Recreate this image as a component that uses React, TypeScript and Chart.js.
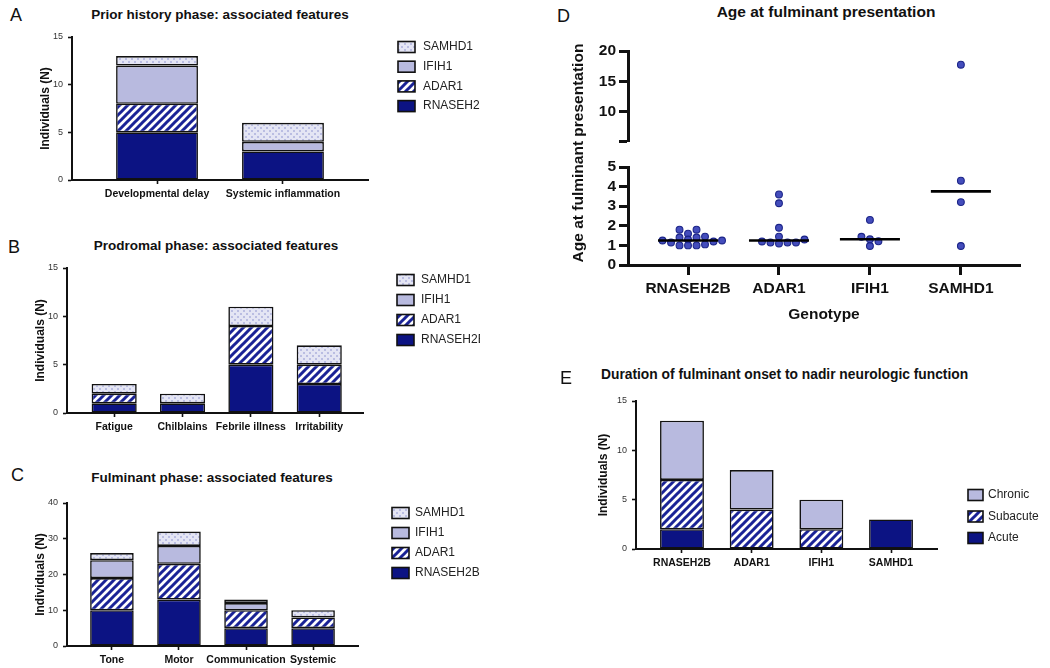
import React, { useEffect, useRef } from 'react';
import { Chart, registerables } from 'chart.js';

Chart.register(...registerables);

// ======================= DATA =======================
const genotypes = ['RNASEH2B', 'ADAR1', 'IFIH1', 'SAMHD1'];

// A – prior history phase
const priorCategories = ['Developmental delay', 'Systemic inflammation'];
const priorRNASEH2B = [5, 3];
const priorADAR1 = [3, 0];
const priorIFIH1 = [4, 1];
const priorSAMHD1 = [1, 2];
const priorAxis = { max: 15, step: 5 };

// B – prodromal phase
const prodromalCategories = ['Fatigue', 'Chilblains', 'Febrile illness', 'Irritability'];
const prodromalRNASEH2B = [1, 1, 5, 3];
const prodromalADAR1 = [1, 0, 4, 2];
const prodromalIFIH1 = [0, 0, 0, 0];
const prodromalSAMHD1 = [1, 1, 2, 2];
const prodromalAxis = { max: 15, step: 5 };

// C – fulminant phase
const fulminantCategories = ['Tone', 'Motor', 'Communication', 'Systemic'];
const fulminantRNASEH2B = [10, 13, 5, 5];
const fulminantADAR1 = [9, 10, 5, 3];
const fulminantIFIH1 = [5, 5, 2, 0];
const fulminantSAMHD1 = [2, 4, 1, 2];
const fulminantAxis = { max: 40, step: 10 };

// D – age at fulminant presentation (years)
const ageRNASEH2B = [1.6, 1.45, 1.8, 1.05, 1.4, 1.3, 1.2, 1.0, 1.8, 1.4, 1.0, 1.15, 1.0, 1.25, 1.25];
const ageADAR1 = [1.2, 1.45, 1.15, 3.6, 3.15, 1.9, 1.3, 1.1, 1.15, 1.15];
const ageIFIH1 = [1.44, 0.97, 2.3, 1.31, 1.21];
const ageSAMHD1 = [17.75, 4.3, 3.21, 0.97];
const ageLowerRange = { min: 0, max: 5, step: 1 };
const ageUpperRange = { min: 5.1, max: 20 };
const ageUpperTicks = [10, 15, 20];

// E – duration of fulminant onset to nadir
const durationAcute = [2, 0, 0, 3];
const durationSubacute = [5, 4, 2, 0];
const durationChronic = [6, 4, 3, 0];
const durationAxis = { max: 15, step: 5 };

// ======================= STYLE / LAYOUT =======================
const FONT = "'Liberation Sans', Arial, Helvetica, sans-serif";
const NAVY = '#0c1383';
const LAVENDER = '#b8badf';
const INK = '#111111';

type Box = { l: number; t: number; r: number; b: number };
type Pad = { left: number; top: number; right: number; bottom: number };

const LAYOUT: any = {
  A: { area: { l: 72, t: 37, r: 368, b: 180 }, pad: { left: 40, top: 12, right: 112, bottom: 28 }, xMin: -0.675, xMax: 1.675, barFrac: 0.65,
    legend: { show: true, dx: 30, dy: 10, gap: 19.7, boxW: 17, boxH: 11, textDx: 25, fontSize: 12 } },
  B: { area: { l: 67, t: 268, r: 363, b: 413 }, pad: { left: 40, top: 12, right: 117, bottom: 28 }, xMin: -0.69, xMax: 3.64, barFrac: 0.66,
    legend: { show: true, dx: 34, dy: 12, gap: 20, boxW: 17, boxH: 11, textDx: 24, fontSize: 12 } },
  C: { area: { l: 67, t: 503, r: 358, b: 646 }, pad: { left: 40, top: 12, right: 122, bottom: 22 }, xMin: -0.67, xMax: 3.67, barFrac: 0.65,
    legend: { show: true, dx: 34, dy: 10, gap: 20, boxW: 17, boxH: 11, textDx: 23, fontSize: 12 } },
  E: { area: { l: 636, t: 401, r: 937, b: 549 }, pad: { left: 46, top: 12, right: 113, bottom: 26 }, xMin: -0.66, xMax: 3.66, barFrac: 0.63,
    legend: { show: true, dx: 31, dy: 94, gap: 21.5, boxW: 15, boxH: 11, textDx: 20, fontSize: 12 } },
  DU: { area: { l: 628, t: 51, r: 1020, b: 148 }, pad: { left: 50, top: 14, right: 10, bottom: 6 } },
  DL: { area: { l: 628, t: 167, r: 1020, b: 265 }, pad: { left: 50, top: 14, right: 10, bottom: 65 } },
  Dx: { min: -0.66, max: 3.65 },
};

function rectOf(area: Box, pad: Pad) {
  return {
    x: area.l - pad.left,
    y: area.t - pad.top,
    w: area.r - area.l + pad.left + pad.right,
    h: area.b - area.t + pad.top + pad.bottom,
  };
}

// ======================= PATTERNS =======================
function hatchPattern(): any {
  const c = document.createElement('canvas');
  c.width = 8; c.height = 8;
  const g = c.getContext('2d')!;
  g.fillStyle = '#ffffff';
  g.fillRect(0, 0, 8, 8);
  g.strokeStyle = '#1a2396';
  g.lineWidth = 3;
  g.beginPath();
  g.moveTo(-2, 10); g.lineTo(10, -2);
  g.moveTo(-6, 6); g.lineTo(6, -6);
  g.moveTo(2, 14); g.lineTo(14, 2);
  g.stroke();
  return g.createPattern(c, 'repeat');
}

function dotPattern(): any {
  const c = document.createElement('canvas');
  c.width = 6; c.height = 6;
  const g = c.getContext('2d')!;
  g.fillStyle = '#e4e5f4';
  g.fillRect(0, 0, 6, 6);
  g.fillStyle = '#babde2';
  g.fillRect(0, 0, 2, 2);
  g.fillRect(3, 3, 2, 2);
  return g.createPattern(c, 'repeat');
}

// ======================= PLUGINS =======================
const boxLegend = {
  id: 'boxLegend',
  afterDraw(chart: any, _args: any, o: any) {
    if (!o || !o.show) return;
    const { ctx, chartArea } = chart;
    const sets = chart.data.datasets.slice().reverse();
    ctx.save();
    sets.forEach((ds: any, k: number) => {
      const cy = chartArea.top + o.dy + k * o.gap;
      const bx = chartArea.right + o.dx;
      ctx.fillStyle = ds.backgroundColor;
      ctx.fillRect(bx, cy - o.boxH / 2, o.boxW, o.boxH);
      ctx.lineWidth = 1.6;
      ctx.strokeStyle = INK;
      ctx.strokeRect(bx, cy - o.boxH / 2, o.boxW, o.boxH);
      ctx.fillStyle = '#222';
      ctx.font = `${o.fontSize}px ${FONT}`;
      ctx.textBaseline = 'middle';
      ctx.textAlign = 'left';
      ctx.fillText(ds.label, bx + o.textDx, cy);
    });
    ctx.restore();
  },
};

// ======================= CONFIG BUILDERS =======================
function stackedBarConfig(spec: any, cats: string[], series: any[], axis: any) {
  const { pad, xMin, xMax, barFrac, legend } = spec;
  return {
    type: 'bar',
    data: {
      datasets: series.map((s: any) => ({
        label: s.label,
        data: s.values.map((v: number, i: number) => ({ x: i, y: v === 0 ? null : v })),
        backgroundColor: s.fill,
        borderColor: INK,
        borderWidth: 1.6,
        borderSkipped: false,
        categoryPercentage: 1,
        barPercentage: barFrac,
      })),
    },
    options: {
      responsive: false,
      animation: false,
      events: [],
      layout: { padding: { top: pad.top, right: pad.right, left: 0, bottom: 0 } },
      plugins: { legend: { display: false }, tooltip: { enabled: false }, boxLegend: legend },
      scales: {
        x: {
          type: 'linear',
          min: xMin,
          max: xMax,
          stacked: true,
          offset: false,
          afterBuildTicks: (s: any) => { s.ticks = cats.map((_c, i) => ({ value: i })); },
          afterFit: (s: any) => { s.height = pad.bottom; },
          grid: { display: true, offset: false, drawOnChartArea: false, drawTicks: true, tickLength: 4, tickWidth: 1.6, tickColor: INK },
          border: { display: true, color: INK, width: 2 },
          ticks: {
            autoSkip: false, maxRotation: 0, minRotation: 0, padding: 4, color: INK,
            font: { family: FONT, size: 10.5, weight: 'bold' },
            callback: (v: any) => cats[Math.round(v)] ?? '',
          },
        },
        y: {
          type: 'linear',
          min: 0,
          max: axis.max,
          stacked: true,
          afterFit: (s: any) => { s.width = pad.left; },
          grid: { display: true, drawOnChartArea: false, drawTicks: true, tickLength: 4, tickWidth: 1.6, tickColor: INK },
          border: { display: true, color: INK, width: 2 },
          ticks: { stepSize: axis.step, autoSkip: false, padding: 5, color: '#333', font: { family: FONT, size: 9 } },
          title: {
            display: true, text: 'Individuals (N)', color: INK,
            font: { family: FONT, size: 12, weight: 'bold' }, padding: { top: 6, bottom: 0 },
          },
        },
      },
    },
    plugins: [boxLegend],
  };
}

function swarmOffsets(values: number[], pxPerY: number, minDx: number, minDy: number): number[] {
  const order = values.map((_v, i) => i).sort((a, b) => values[a] - values[b]);
  const placed: { x: number; y: number }[] = [];
  const out = new Array(values.length).fill(0);
  for (const i of order) {
    const y = values[i] * pxPerY;
    let x = 0;
    for (let k = 0; k < 600; k++) {
      const cand = k === 0 ? 0 : (k % 2 ? 1 : -1) * Math.ceil(k / 2) * 0.5;
      const ok = placed.every((p) => Math.abs(p.y - y) >= minDy || Math.abs(p.x - cand) >= minDx - 1e-6);
      if (ok) { x = cand; break; }
    }
    placed.push({ x, y });
    out[i] = x;
  }
  return out;
}

function median(vals: number[]) {
  const s = vals.slice().sort((a, b) => a - b);
  const n = s.length;
  return n % 2 ? s[(n - 1) / 2] : (s[n / 2 - 1] + s[n / 2]) / 2;
}

const ageGroups = [ageRNASEH2B, ageADAR1, ageIFIH1, ageSAMHD1];

function dotConfig(part: 'upper' | 'lower') {
  const spec = part === 'upper' ? LAYOUT.DU : LAYOUT.DL;
  const range = part === 'upper' ? ageUpperRange : ageLowerRange;
  const { area, pad } = spec;
  const pxPerY = (area.b - area.t) / (range.max - range.min);
  const pxPerX = (area.r - area.l) / (LAYOUT.Dx.max - LAYOUT.Dx.min);
  const inPart = (v: number) => (part === 'upper' ? v > ageLowerRange.max : v <= ageLowerRange.max);

  const datasets: any[] = [];
  ageGroups.forEach((vals, g) => {
    const m = median(vals);
    if (inPart(m)) {
      datasets.push({
        type: 'scatter',
        label: genotypes[g] + ' median',
        data: [{ x: g - 0.33, y: m }, { x: g + 0.33, y: m }],
        showLine: true,
        borderColor: '#000',
        borderWidth: 2.6,
        pointRadius: 0,
        order: 0,
      });
    }
  });
  ageGroups.forEach((vals, g) => {
    const sub = vals.filter(inPart);
    if (!sub.length) return;
    const offs = swarmOffsets(sub, pxPerY, 8.5, 5);
    datasets.push({
      type: 'scatter',
      label: genotypes[g],
      data: sub.map((v, i) => ({ x: g + offs[i] / pxPerX, y: v })),
      pointRadius: 3.4,
      pointBackgroundColor: 'rgba(52, 62, 182, 0.92)',
      pointBorderColor: '#1b2488',
      pointBorderWidth: 1.1,
      order: 1,
    });
  });

  const yScale: any = {
    type: 'linear',
    min: range.min,
    max: range.max,
    afterFit: (s: any) => { s.width = pad.left; },
    grid: { display: true, drawOnChartArea: false, drawTicks: true, tickLength: 9, tickWidth: 3, tickColor: INK },
    border: { display: true, color: INK, width: 3 },
    ticks: { autoSkip: false, padding: 3, color: INK, font: { family: FONT, size: 15.5, weight: 'bold' } },
  };
  if (part === 'upper') {
    yScale.afterBuildTicks = (s: any) => {
      s.ticks = [{ value: ageUpperRange.min }, ...ageUpperTicks.map((v) => ({ value: v }))];
    };
    yScale.ticks.callback = (v: any) => (ageUpperTicks.includes(v) ? String(v) : '');
  } else {
    yScale.ticks.stepSize = ageLowerRange.step;
  }

  const xScale: any = {
    type: 'linear',
    min: LAYOUT.Dx.min,
    max: LAYOUT.Dx.max,
    offset: false,
    display: part === 'lower',
    afterBuildTicks: (s: any) => { s.ticks = genotypes.map((_c, i) => ({ value: i })); },
    afterFit: (s: any) => { s.height = pad.bottom; },
    grid: { display: true, offset: false, drawOnChartArea: false, drawTicks: true, tickLength: 10, tickWidth: 3, tickColor: INK },
    border: { display: true, color: INK, width: 3 },
    ticks: {
      autoSkip: false, maxRotation: 0, minRotation: 0, padding: 4, color: INK,
      font: { family: FONT, size: 15.5, weight: 'bold' },
      callback: (v: any) => genotypes[Math.round(v)] ?? '',
    },
    title: {
      display: true, text: 'Genotype', color: INK,
      font: { family: FONT, size: 15.5, weight: 'bold' }, padding: { top: 0, bottom: 6 },
    },
  };

  return {
    type: 'scatter',
    data: { datasets },
    options: {
      responsive: false,
      animation: false,
      events: [],
      layout: { padding: { top: pad.top, right: pad.right, left: 0, bottom: part === 'upper' ? pad.bottom : 0 } },
      plugins: { legend: { display: false }, tooltip: { enabled: false } },
      scales: { x: xScale, y: yScale },
    },
  };
}

// ======================= COMPONENTS =======================
function ChartCanvas({ spec, make }: { spec: any; make: () => any }) {
  const ref = useRef<HTMLCanvasElement>(null);
  const r = rectOf(spec.area, spec.pad);
  useEffect(() => {
    const chart = new Chart(ref.current as HTMLCanvasElement, make());
    return () => chart.destroy();
  }, []);
  return (
    <canvas
      ref={ref}
      width={r.w}
      height={r.h}
      style={{ position: 'absolute', left: r.x, top: r.y, width: r.w, height: r.h }}
    />
  );
}

const TEXTS: any[] = [
  { t: 'A', x: 10, y: 15, size: 18, bold: false, align: 'left' },
  { t: 'Prior history phase: associated features', x: 220, y: 15, size: 13.5, bold: true, align: 'center' },
  { t: 'B', x: 8, y: 247, size: 18, bold: false, align: 'left' },
  { t: 'Prodromal phase: associated features', x: 216, y: 246, size: 13.5, bold: true, align: 'center' },
  { t: 'C', x: 11, y: 475, size: 18, bold: false, align: 'left' },
  { t: 'Fulminant phase: associated features', x: 212, y: 478, size: 13.5, bold: true, align: 'center' },
  { t: 'D', x: 557, y: 16, size: 18, bold: false, align: 'left' },
  { t: 'Age at fulminant presentation', x: 826, y: 12, size: 15.5, bold: true, align: 'center' },
  { t: 'Age at fulminant presentation', x: 578, y: 153, size: 15.5, bold: true, align: 'center', rotate: true },
  { t: 'E', x: 560, y: 378, size: 18, bold: false, align: 'left' },
  { t: 'Duration of fulminant onset to nadir neurologic function', x: 601, y: 375, size: 13.8, bold: true, align: 'left' },
];

export default function App() {
  const seriesABC = (r: number[], a: number[], i: number[], s: number[]) => [
    { label: 'RNASEH2B', values: r, fill: NAVY },
    { label: 'ADAR1', values: a, fill: hatchPattern() },
    { label: 'IFIH1', values: i, fill: LAVENDER },
    { label: 'SAMHD1', values: s, fill: dotPattern() },
  ];

  return (
    <div style={{ position: 'absolute', left: 0, top: 0, width: 1050, height: 668, overflow: 'hidden', background: '#fff', fontFamily: FONT }}>
      <ChartCanvas
        spec={LAYOUT.A}
        make={() => stackedBarConfig(LAYOUT.A, priorCategories, seriesABC(priorRNASEH2B, priorADAR1, priorIFIH1, priorSAMHD1), priorAxis)}
      />
      <ChartCanvas
        spec={LAYOUT.B}
        make={() => stackedBarConfig(LAYOUT.B, prodromalCategories, seriesABC(prodromalRNASEH2B, prodromalADAR1, prodromalIFIH1, prodromalSAMHD1), prodromalAxis)}
      />
      <ChartCanvas
        spec={LAYOUT.C}
        make={() => stackedBarConfig(LAYOUT.C, fulminantCategories, seriesABC(fulminantRNASEH2B, fulminantADAR1, fulminantIFIH1, fulminantSAMHD1), fulminantAxis)}
      />
      <ChartCanvas
        spec={LAYOUT.E}
        make={() => stackedBarConfig(LAYOUT.E, genotypes, [
          { label: 'Acute', values: durationAcute, fill: NAVY },
          { label: 'Subacute', values: durationSubacute, fill: hatchPattern() },
          { label: 'Chronic', values: durationChronic, fill: LAVENDER },
        ], durationAxis)}
      />
      <ChartCanvas spec={LAYOUT.DU} make={() => dotConfig('upper')} />
      <ChartCanvas spec={LAYOUT.DL} make={() => dotConfig('lower')} />
      {TEXTS.map((d, k) => (
        <div
          key={k}
          style={{
            position: 'absolute',
            left: d.x,
            top: d.y,
            fontSize: d.size,
            fontWeight: d.bold ? 'bold' : 'normal',
            fontFamily: FONT,
            color: INK,
            lineHeight: 1,
            whiteSpace: 'nowrap',
            transform: d.rotate
              ? 'translate(-50%, -50%) rotate(-90deg)'
              : d.align === 'center' ? 'translate(-50%, -50%)' : 'translate(0, -50%)',
          }}
        >
          {d.t}
        </div>
      ))}
    </div>
  );
}
